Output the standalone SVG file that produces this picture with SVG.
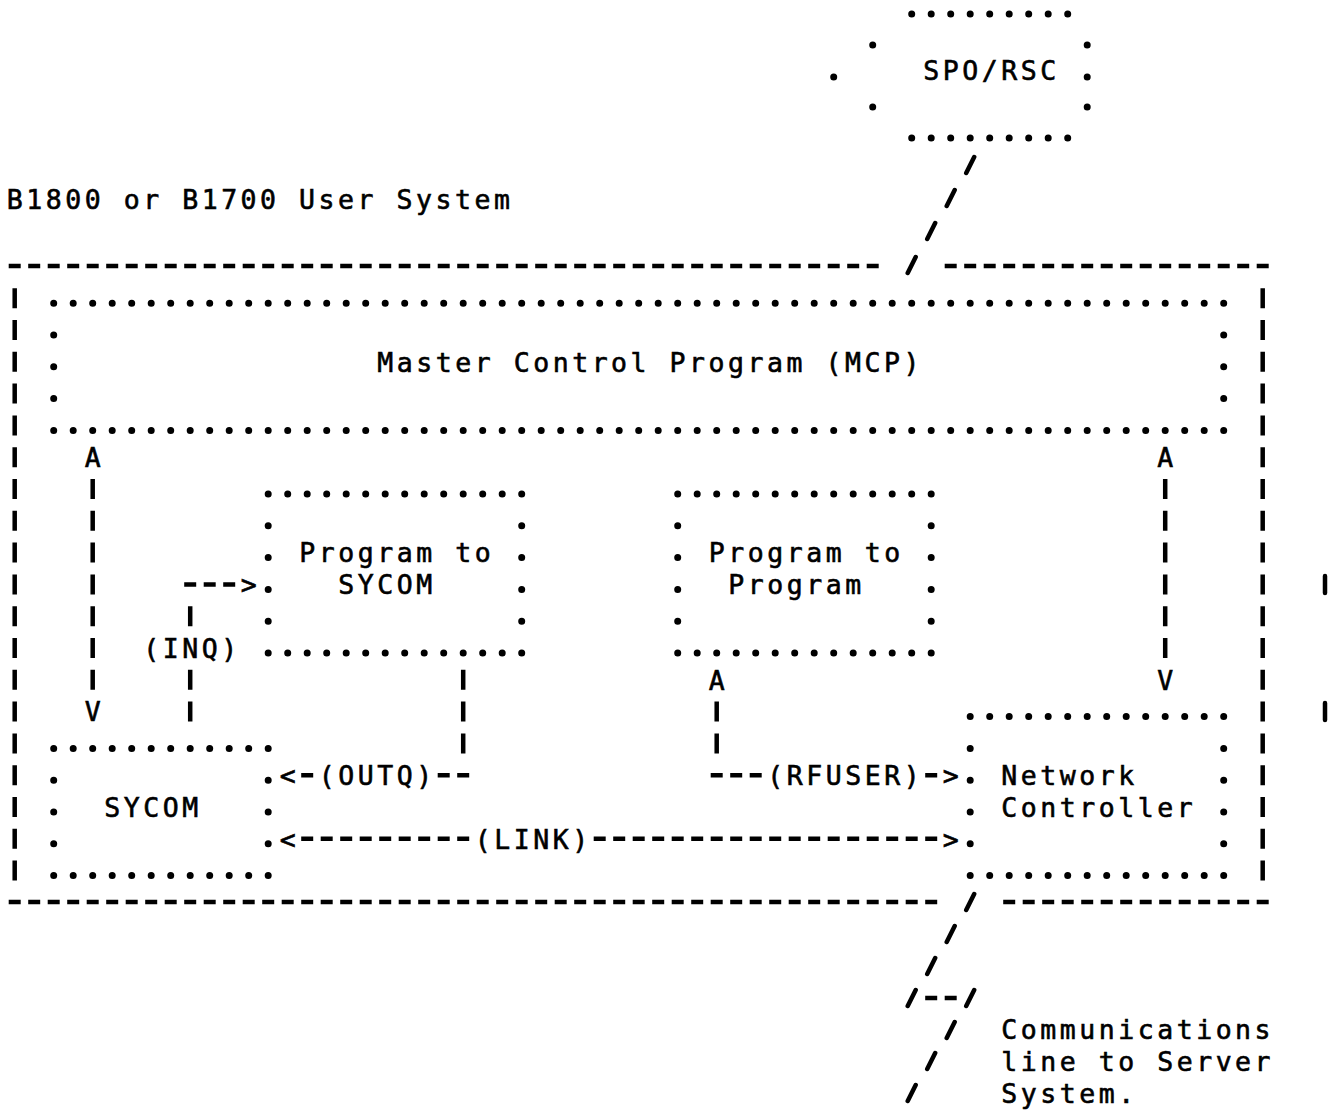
<svg xmlns="http://www.w3.org/2000/svg" width="1336" height="1110" viewBox="0 0 1336 1110">
<style>
.dot{fill:none;stroke:#000;stroke-width:7;stroke-linecap:round}
.dh{stroke-dasharray:0 19.5}
.dv{stroke-dasharray:0 31.8}
.pt{fill:#000}
.bar{fill:none;stroke:#000;stroke-width:4.5;stroke-dasharray:20 11.8}
.dash{fill:none;stroke:#000;stroke-width:4.5;stroke-dasharray:12 7.5}
.sl{fill:none;stroke:#000;stroke-width:4.5;stroke-linecap:round}
.t{font-family:"DejaVu Sans Mono","Liberation Mono",monospace;font-size:26.5px;letter-spacing:3.54px;fill:#000;stroke:#000;stroke-width:0.6}
</style>
<rect width="1336" height="1110" fill="#fff"/>

<g id="spo-rsc">
<path class="dot dh" d="M911.7 14H1068.7M911.7 138H1068.7"/>
<circle class="pt" cx="872.7" cy="45" r="3.5"/>
<circle class="pt" cx="1087.2" cy="45" r="3.5"/>
<circle class="pt" cx="833.7" cy="77" r="3.5"/>
<circle class="pt" cx="1087.2" cy="77" r="3.5"/>
<circle class="pt" cx="872.7" cy="107" r="3.5"/>
<circle class="pt" cx="1087.2" cy="107" r="3.5"/>
<text class="t" x="923.2" y="79.7">SPO/RSC</text>
</g>

<g id="user-system">
<text class="t" x="6.7" y="208.7">B1800 or B1700 User System</text>
<path class="dash" d="M8.7 266H878.7M944.7 266H1268.7M8.7 902H937.2M1003.2 902H1268.7"/>
<path class="bar" d="M14.7 288.2V880.6M1262.7 288.2V880.6"/>
</g>

<g id="mcp">
<path class="dot dh" d="M53.7 303.2H1224.7M53.7 430.4H1224.7"/>
<path class="dot dv" d="M53.7 335V399.6M1223.7 335V399.6"/>
<text class="t" x="377.2" y="371.5">Master Control Program (MCP)</text>
</g>

<g id="program-to-sycom">
<path class="dot dh" d="M268.2 494H522.7M268.2 653H522.7"/>
<path class="dot dv" d="M268.2 525.8V622.2M521.7 525.8V622.2"/>
<text class="t" x="299.2" y="562.3">Program to</text>
<text class="t" x="338.2" y="594.1">SYCOM</text>
</g>

<g id="program-to-program">
<path class="dot dh" d="M677.7 494H932.2M677.7 653H932.2"/>
<path class="dot dv" d="M677.7 525.8V622.2M931.2 525.8V622.2"/>
<text class="t" x="708.7" y="562.3">Program to</text>
<text class="t" x="728.2" y="594.1">Program</text>
</g>

<g id="sycom">
<path class="dot dh" d="M53.7 748.4H269.2M53.7 875.6H269.2"/>
<path class="dot dv" d="M53.7 780.2V844.8M268.2 780.2V844.8"/>
<text class="t" x="104.2" y="816.7">SYCOM</text>
</g>

<g id="network-controller">
<path class="dot dh" d="M970.2 716.6H1224.7M970.2 875.6H1224.7"/>
<path class="dot dv" d="M970.2 748.4V844.8M1223.7 748.4V844.8"/>
<text class="t" x="1001.2" y="784.9">Network</text>
<text class="t" x="1001.2" y="816.7">Controller</text>
</g>

<g id="connectors">
<g id="mcp-sycom">
<text class="t" x="84.7" y="466.9">A</text>
<path class="bar" d="M92.7 479V689.8"/>
<text class="t" x="84.7" y="721.3">V</text>
</g>
<g id="mcp-network">
<text class="t" x="1157.2" y="466.9">A</text>
<path class="bar" d="M1165.2 479V658"/>
<text class="t" x="1157.2" y="689.5">V</text>
</g>
<g id="inq">
<path class="dash" d="M184.2 584.4H235.2"/>
<text class="t" x="240.7" y="594.1">&gt;</text>
<path class="bar" d="M190.2 606.2V626.2M190.2 669.8V721.6"/>
<text class="t" x="143.2" y="657.7">(INQ)</text>
</g>
<g id="outq">
<path class="bar" d="M463.2 669.8V753.4"/>
<text class="t" x="279.7" y="784.9">&lt;</text>
<path class="dash" d="M301.2 775.2H313.2M437.7 775.2H469.2"/>
<text class="t" x="318.7" y="784.9">(OUTQ)</text>
</g>
<g id="rfuser">
<text class="t" x="708.7" y="689.5">A</text>
<path class="bar" d="M716.7 701.6V753.4"/>
<path class="dash" d="M710.7 775.2H761.7M925.2 775.2H937.2"/>
<text class="t" x="767.2" y="784.9">(RFUSER)</text>
<text class="t" x="942.7" y="784.9">&gt;</text>
</g>
<g id="link">
<text class="t" x="279.7" y="848.5">&lt;</text>
<path class="dash" d="M301.2 838.8H469.2M593.7 838.8H937.2"/>
<text class="t" x="474.7" y="848.5">(LINK)</text>
<text class="t" x="942.7" y="848.5">&gt;</text>
</g>
<g id="spo-line">
<path class="sl" d="M974.2 157L966.2 173M954.7 190L946.7 206M935.2 223L927.2 239M915.7 257L907.7 273"/>
</g>
<g id="comm-line">
<path class="sl" d="M974.2 894L966.2 910M954.7 926L946.7 942M935.2 958L927.2 974M915.7 990L907.7 1006M974.2 990L966.2 1006M954.7 1022L946.7 1038M935.2 1053L927.2 1069M915.7 1085L907.7 1101"/>
<path class="dash" d="M925.2 998H956.7"/>
</g>
</g>

<g id="comm-label">
<text class="t" x="1001.2" y="1039.3">Communications</text>
<text class="t" x="1001.2" y="1071.1">line to Server</text>
<text class="t" x="1001.2" y="1102.9">System.</text>
</g>

<g id="marks">
<path class="sl" d="M1325 576V593M1325 703V720"/>
</g>
</svg>
